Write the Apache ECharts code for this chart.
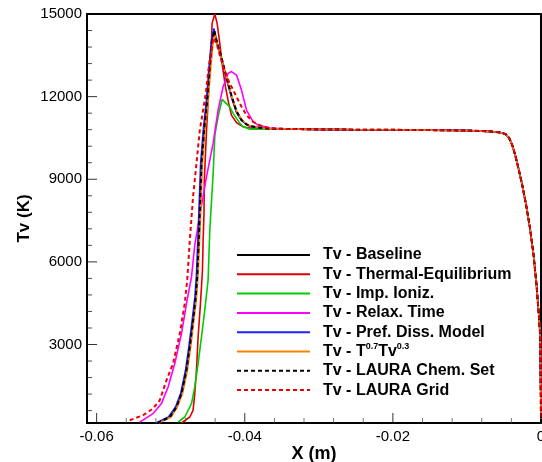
<!DOCTYPE html>
<html>
<head>
<meta charset="utf-8">
<script src="https://cdn.jsdelivr.net/npm/echarts@6/dist/echarts.min.js"></script>
<style>
  html, body { margin: 0; padding: 0; background: #fff; }
  #chart { width: 542px; height: 462px; }
</style>
</head>
<body>
<div id="chart"></div>
<script>
// Vibrational temperature profiles along the stagnation line.

// Axis extents and tick values
const X_MIN = -0.0613, X_MAX = 0;
const Y_MIN = 150, Y_MAX = 15000;
const xMajorTicks = [-0.06, -0.04, -0.02, 0];
const xMinorTicks = [-0.056, -0.052, -0.048, -0.044, -0.036, -0.032, -0.028, -0.024,
                     -0.016, -0.012, -0.008, -0.004];
const yMajorTicks = [3000, 6000, 9000, 12000, 15000];
const yMinorTicks = [600, 1200, 1800, 2400, 3600, 4200, 4800, 5400, 6600, 7200, 7800, 8400,
                     9600, 10200, 10800, 11400, 12600, 13200, 13800, 14400];

// Shared post-shock plateau and wall region (all cases coincide here)
const tailX = [-0.035, -0.030, -0.025, -0.020, -0.015, -0.010, -0.007, -0.0055, -0.0048, -0.0043,
               -0.0039, -0.0035, -0.0030, -0.0025, -0.0020, -0.0015, -0.0010, -0.0006, -0.0003, -0.0001, 0];
const tailT = [10830, 10810, 10800, 10795, 10785, 10770, 10740, 10700, 10640, 10500,
               10250, 9900, 9350, 8750, 8050, 7250, 6250, 5150, 4100, 3300, 300];

// Shock-layer region, one pair of arrays per case
const baseX = [-0.0518, -0.0501, -0.04922, -0.04854, -0.04787, -0.04742, -0.04698, -0.04661, -0.04641,
               -0.04616, -0.04584, -0.04549, -0.04506, -0.04472, -0.04441, -0.04414, -0.0437, -0.04337, -0.04292,
               -0.0424, -0.04179, -0.04111, -0.04044, -0.0398, -0.03931, -0.03796, -0.0365];
const baseT = [150, 368, 731, 1218, 2065, 2911, 3881, 4728, 5500,
               7151, 9574, 10784, 11874, 13084, 14054, 14442, 13900, 13600, 13150,
               12600, 12000, 11450, 11150, 11000, 10930, 10870, 10830];

const thermEqX = [-0.04854, -0.04742, -0.04698, -0.04675, -0.04652, -0.0463, -0.04598, -0.04571, -0.04562,
                  -0.0455, -0.04546, -0.04516, -0.04449, -0.04441, -0.04404, -0.04373, -0.04337, -0.043, -0.0426,
                  -0.0422, -0.0418, -0.0411, -0.0402, -0.039, -0.0365];
const thermEqT = [150, 368, 611, 1218, 2065, 3274, 4488, 5698, 6788,
                  7758, 8967, 10784, 14054, 14660, 15000, 14660, 13934, 13084, 12350,
                  11800, 11330, 11050, 10900, 10850, 10830];

const impIonX = [-0.049, -0.0481, -0.04719, -0.04675, -0.0463, -0.04584, -0.0454, -0.04495, -0.04472,
                 -0.04427, -0.04404, -0.0436, -0.04306, -0.04202, -0.04157, -0.04111, -0.04066, -0.04022, -0.0393, -0.0365];
const impIonT = [180, 368, 855, 1458, 2308, 3274, 4244, 5334, 7151,
                 9200, 10600, 11267, 11899, 11630, 11391, 11209, 11027, 10904, 10820, 10820];

const relaxX = [-0.05418, -0.05238, -0.05125, -0.05035, -0.04945, -0.04854, -0.04787, -0.04719, -0.04675,
                -0.04607, -0.04516, -0.04449, -0.04427, -0.0436, -0.04292, -0.04225, -0.04179, -0.04111, -0.04044,
                -0.03976, -0.03887, -0.03819, -0.03752, -0.03661, -0.0355];
const relaxT = [180, 491, 855, 1458, 2308, 3398, 4488, 5454, 6600,
                7700, 9100, 10000, 10300, 11510, 12357, 12844, 12910, 12782, 12237,
                11510, 11086, 10965, 10920, 10860, 10840];

const prefDissX = [-0.052, -0.0503, -0.04935, -0.04866, -0.048, -0.04755, -0.0471, -0.04673, -0.04653,
                   -0.04628, -0.04596, -0.0456, -0.04518, -0.04482, -0.04449, -0.04418, -0.04375, -0.0434, -0.04295,
                   -0.04243, -0.04182, -0.04114, -0.04047, -0.03983, -0.03934, -0.038, -0.0365];
const prefDissT = [150, 368, 731, 1218, 2065, 2911, 3881, 4728, 5500,
                   7151, 9574, 10784, 11874, 13084, 14054, 14480, 13950, 13620, 13150,
                   12600, 12000, 11450, 11150, 11000, 10930, 10870, 10830];

const tWeightX = [-0.0516, -0.04995, -0.0491, -0.0484, -0.04774, -0.0473, -0.04686, -0.0465, -0.0463,
                  -0.04604, -0.04572, -0.04537, -0.04494, -0.0446, -0.0443, -0.04405, -0.04365, -0.04332, -0.04288,
                  -0.04236, -0.04175, -0.04108, -0.04042, -0.03978, -0.0393, -0.03796, -0.0365];
const tWeightT = [150, 368, 731, 1218, 2065, 2911, 3881, 4728, 5500,
                  7151, 9574, 10784, 11874, 13000, 13900, 14300, 13850, 13550, 13100,
                  12580, 12000, 11470, 11170, 11010, 10940, 10870, 10830];

const lauraChemX = [-0.0518, -0.0501, -0.04922, -0.04854, -0.04787, -0.04742, -0.04698, -0.04661, -0.04641,
                    -0.04616, -0.04584, -0.04549, -0.04506, -0.04472, -0.04441, -0.04412, -0.04368, -0.04335, -0.0429,
                    -0.04238, -0.04177, -0.0411, -0.04044, -0.0398, -0.03931, -0.03796, -0.0365];
const lauraChemT = [150, 368, 731, 1218, 2065, 2911, 3881, 4728, 5500,
                    7151, 9574, 10784, 11874, 13084, 14054, 14400, 13900, 13620, 13180,
                    12620, 12020, 11460, 11150, 11000, 10930, 10870, 10830];

const lauraGridX = [-0.05553, -0.05373, -0.05238, -0.05148, -0.05057, -0.04968, -0.04877, -0.0481, -0.04775,
                    -0.04742, -0.04698, -0.04652, -0.04607, -0.04562, -0.04526, -0.04492, -0.04452, -0.04425, -0.04377,
                    -0.04337, -0.04269, -0.04202, -0.04111, -0.04044, -0.03976, -0.03887, -0.03752, -0.03594];
const lauraGridT = [250, 430, 673, 975, 1701, 2308, 3398, 4488, 5400,
                    6788, 8361, 9574, 10784, 11510, 12117, 12950, 13690, 14130, 13900,
                    13500, 12900, 12480, 11994, 11630, 11330, 11086, 10904, 10840];

const seriesNames = ['Tv - Baseline', 'Tv - Thermal-Equilibrium', 'Tv - Imp. Ioniz.', 'Tv - Relax. Time',
                     'Tv - Pref. Diss. Model', 'Tv - T0.7Tv0.3', 'Tv - LAURA Chem. Set', 'Tv - LAURA Grid'];

const FONT = "'Liberation Sans', Arial, Helvetica, sans-serif";
const MAJOR_LEN = 10, MINOR_LEN = 5;

function pairs(xs, ts) {
  const out = xs.map((x, i) => [x, ts[i]]);
  for (let i = 0; i < tailX.length; i++) out.push([tailX[i], tailT[i]]);
  return out;
}

function lineSeries(name, xs, ts, color, dashed) {
  return {
    type: 'line',
    name: name,
    data: pairs(xs, ts),
    showSymbol: false,
    symbol: 'none',
    smooth: false,
    clip: true,
    z: 2,
    lineStyle: { color: color, width: dashed ? 2 : 1.6, type: dashed ? [4, 3] : 'solid' },
    itemStyle: { color: color },
    emphasis: { disabled: true }
  };
}

// Inward tick marks along the bottom (x) and left (y) edges of the frame
function xTickMarks(name, values, len, color) {
  return {
    type: 'scatter', name: name, silent: true, clip: false, z: 3, legendHoverLink: false,
    data: values.map(v => [v, Y_MIN]),
    symbol: 'rect', symbolSize: [1, len], symbolOffset: [0, -len / 2],
    itemStyle: { color: color }, emphasis: { disabled: true }
  };
}
function yTickMarks(name, values, len, color) {
  return {
    type: 'scatter', name: name, silent: true, clip: false, z: 3, legendHoverLink: false,
    data: values.map(v => [X_MIN, v]),
    symbol: 'rect', symbolSize: [len, 1], symbolOffset: [len / 2, 0],
    itemStyle: { color: color }, emphasis: { disabled: true }
  };
}

const tickFont = { fontFamily: FONT, fontSize: 15, color: '#000' };
const frameLine = { show: true, onZero: false, lineStyle: { color: '#000', width: 2 } };

function frameAxis(min, max, position) {
  return {
    type: 'value', min: min, max: max, position: position,
    axisLine: frameLine, axisTick: { show: false }, axisLabel: { show: false }, splitLine: { show: false }
  };
}

const chart = echarts.init(document.getElementById('chart'), null, { renderer: 'canvas' });

chart.setOption({
  animation: false,
  backgroundColor: '#fff',
  grid: { left: 87, right: 1, top: 14, bottom: 39, outerBoundsMode: 'none', containLabel: false },
  legend: {
    orient: 'vertical',
    left: 236,
    top: 245.5,
    padding: 0,
    itemWidth: 73,
    itemHeight: 19,
    itemGap: 0.3,
    selectedMode: false,
    data: seriesNames,
    itemStyle: { color: 'transparent', borderColor: 'transparent', borderWidth: 0, opacity: 0 },
    formatter: function (name) {
      if (name === 'Tv - T0.7Tv0.3') return '{b|Tv - T}{s|0.7}{b|Tv}{s|0.3}';
      return '{b|' + name + '}';
    },
    textStyle: {
      lineHeight: 19,
      padding: [0, 0, 0, 8],
      rich: {
        b: { fontFamily: FONT, fontWeight: 'bold', fontSize: 16, color: '#000', lineHeight: 19 },
        s: { fontFamily: FONT, fontWeight: 'bold', fontSize: 9, color: '#000', lineHeight: 13, verticalAlign: 'top' }
      }
    }
  },
  xAxis: [
    Object.assign(frameAxis(X_MIN, X_MAX, 'bottom'), {
      name: 'X (m)', nameLocation: 'middle', nameGap: 22, nameMoveOverlap: false,
      nameTextStyle: { fontFamily: FONT, fontWeight: 'bold', fontSize: 18, color: '#000' },
      axisLabel: Object.assign({ show: true, customValues: xMajorTicks, margin: 6,
        formatter: v => (Math.abs(v) < 1e-12 ? '0' : v.toFixed(2)) }, tickFont)
    }),
    frameAxis(X_MIN, X_MAX, 'top')
  ],
  yAxis: [
    Object.assign(frameAxis(Y_MIN, Y_MAX, 'left'), {
      name: 'Tv (K)', nameLocation: 'middle', nameGap: 54, nameRotate: 90, nameMoveOverlap: false,
      nameTextStyle: { fontFamily: FONT, fontWeight: 'bold', fontSize: 17, color: '#000' },
      axisLabel: Object.assign({ show: true, customValues: yMajorTicks, margin: 5,
        formatter: v => String(v) }, tickFont)
    }),
    frameAxis(Y_MIN, Y_MAX, 'right')
  ],
  series: [
    lineSeries(seriesNames[0], baseX, baseT, '#000000', false),
    lineSeries(seriesNames[1], thermEqX, thermEqT, '#dd0000', false),
    lineSeries(seriesNames[2], impIonX, impIonT, '#00cc00', false),
    lineSeries(seriesNames[3], relaxX, relaxT, '#ff00ff', false),
    lineSeries(seriesNames[4], prefDissX, prefDissT, '#2020ff', false),
    lineSeries(seriesNames[5], tWeightX, tWeightT, '#ff8000', false),
    lineSeries(seriesNames[6], lauraChemX, lauraChemT, '#000000', true),
    lineSeries(seriesNames[7], lauraGridX, lauraGridT, '#ee0000', true),
    xTickMarks('x major ticks', xMajorTicks, MAJOR_LEN, '#000'),
    xTickMarks('x minor ticks', xMinorTicks, MINOR_LEN, '#555'),
    yTickMarks('y major ticks', yMajorTicks, MAJOR_LEN, '#000'),
    yTickMarks('y minor ticks', yMinorTicks, MINOR_LEN, '#222')
  ]
});
</script>
</body>
</html>
